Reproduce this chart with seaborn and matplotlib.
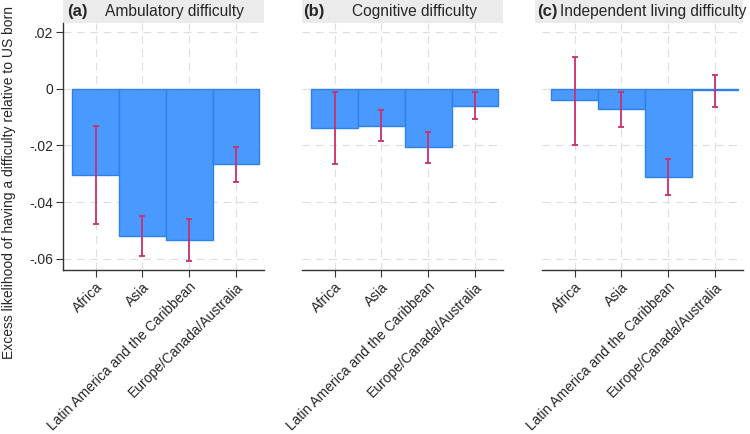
import matplotlib

matplotlib.use("Agg")
import matplotlib.pyplot as plt
import numpy as np
import pandas as pd
import seaborn as sns
from matplotlib.patches import Rectangle

regions = ["Africa", "Asia", "Latin America and the Caribbean", "Europe/Canada/Australia"]
panel_tags = ["(a)", "(b)", "(c)"]
panel_names = ["Ambulatory difficulty", "Cognitive difficulty", "Independent living difficulty"]

# point estimates
ambulatory = [-0.0305, -0.0520, -0.0533, -0.0264]
cognitive = [-0.0139, -0.0130, -0.0206, -0.0060]
independent = [-0.0041, -0.0072, -0.0312, -0.0006]

# 95% confidence bounds
ambulatory_lo = [-0.0477, -0.0590, -0.0607, -0.0330]
ambulatory_hi = [-0.0130, -0.0450, -0.0460, -0.0204]
cognitive_lo = [-0.0266, -0.0185, -0.0263, -0.0108]
cognitive_hi = [-0.0013, -0.0075, -0.0152, -0.0013]
independent_lo = [-0.0197, -0.0135, -0.0376, -0.0066]
independent_hi = [0.0111, -0.0013, -0.0248, 0.0048]

y_ticks = [0.02, 0.0, -0.02, -0.04, -0.06]
y_tick_labels = [".02", "0", "-.02", "-.04", "-.06"]

BAR_COLOR = "#4A99FF"
BAR_EDGE = "#2C82EA"
ERR_COLOR = "#C7306C"
STRIP_COLOR = "#EBEBEB"

sns.set_theme(style="whitegrid")
plt.rcParams["font.family"] = ["Liberation Sans", "DejaVu Sans"]

fig = plt.figure(figsize=(7.5, 4.34), dpi=100)
lefts = [0.084, 0.4027, 0.7227]
width = 0.268
bottom, height = 0.378, 0.569

# title strip layout per panel (axes fraction): strip start, tag x, name x
strip_start = [0.0, 0.0, -0.035]
tag_x = [0.02, 0.005, -0.025]
name_x = [0.21, 0.25, 0.09]

series = [
    (ambulatory, ambulatory_lo, ambulatory_hi),
    (cognitive, cognitive_lo, cognitive_hi),
    (independent, independent_lo, independent_hi),
]

for i, (vals, lo, hi) in enumerate(series):
    ax = fig.add_axes([lefts[i], bottom, width, height])
    df = pd.DataFrame({"region": regions, "value": vals})
    sns.barplot(
        data=df, x="region", y="value", order=regions, ax=ax,
        color=BAR_COLOR, width=1.0, edgecolor=BAR_EDGE, linewidth=1.0,
        saturation=1, errorbar=None,
    )
    vals = np.array(vals)
    err = [vals - np.array(lo), np.array(hi) - vals]
    ax.errorbar(
        np.arange(len(regions)), vals, yerr=err, fmt="none",
        ecolor=ERR_COLOR, elinewidth=1.3, capsize=2.5, capthick=1.3, zorder=5,
    )

    ax.set_xlim(-0.7, 3.6)
    ax.set_ylim(-0.0639, 0.0232)
    ax.set_yticks(y_ticks)
    ax.set_xlabel("")
    ax.set_ylabel("")
    ax.grid(True, color="#DDDDDD", linestyle=(0, (7, 5)), linewidth=0.8)
    ax.set_axisbelow(True)
    for side in ["top", "right"]:
        ax.spines[side].set_visible(False)
    ax.spines["bottom"].set_color("#333333")
    ax.spines["bottom"].set_linewidth(1.0)
    ax.tick_params(axis="x", bottom=True, length=5, color="#333333", width=0.8, pad=2)
    ax.set_xticks(range(len(regions)))
    ax.set_xticklabels(regions, rotation=45, ha="right", rotation_mode="anchor", fontsize=10)

    if i == 0:
        ax.spines["left"].set_visible(True)
        ax.spines["left"].set_color("#333333")
        ax.spines["left"].set_linewidth(1.0)
        ax.set_yticklabels(y_tick_labels, fontsize=10)
        ax.tick_params(axis="y", left=True, length=5, color="#333333", width=0.8, pad=2)
    else:
        ax.spines["left"].set_visible(False)
        ax.set_yticklabels([])
        ax.tick_params(axis="y", left=False, length=0)

    strip_h = 23 / (434 * height)
    ax.add_patch(Rectangle((strip_start[i], 1), 1 - strip_start[i], strip_h,
                           transform=ax.transAxes, facecolor=STRIP_COLOR,
                           edgecolor="none", clip_on=False))
    ax.text(tag_x[i], 1 + strip_h / 2, panel_tags[i], transform=ax.transAxes,
            ha="left", va="center", fontsize=12, fontweight="bold")
    ax.text(name_x[i], 1 + strip_h / 2, panel_names[i], transform=ax.transAxes,
            ha="left", va="center", fontsize=11.2)

fig.text(0.012, 0.58, "Excess likelihood of having a difficulty relative to US born",
         rotation=90, ha="center", va="center", fontsize=10)

fig.savefig("out.png", dpi=100)
